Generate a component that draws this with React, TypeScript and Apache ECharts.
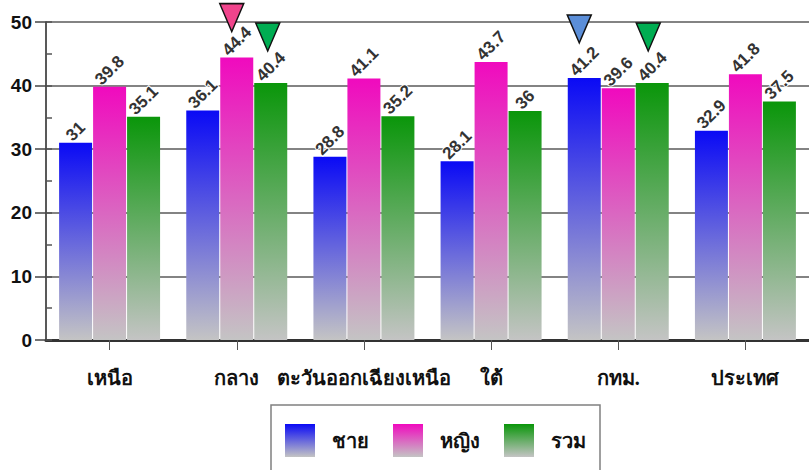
import React, { useEffect, useRef } from "react";
import * as echarts from "echarts";

const categories = ["เหนือ", "กลาง", "ตะวันออกเฉียงเหนือ", "ใต้", "กทม.", "ประเทศ"];
const male = [31, 36.1, 28.8, 28.1, 41.2, 32.9];
const female = [39.8, 44.4, 41.1, 43.7, 39.6, 41.8];
const total = [35.1, 40.4, 35.2, 36, 40.4, 37.5];
const seriesNames = ["ชาย", "หญิง", "รวม"];
const yTicks = [0, 10, 20, 30, 40, 50];

const thaiFont = "serif";
const numFont = "Arial, 'Liberation Sans', sans-serif";
const LABEL_SIZE = 17;

function grad(top: string) {
  return new echarts.graphic.LinearGradient(0, 0, 0, 1, [
    { offset: 0, color: top },
    { offset: 1, color: "#c4c4c4" },
  ]);
}

function textWidth(s: string) {
  let w = 0;
  for (const ch of s) w += ch === "." ? 0.278 : 0.556;
  return w * LABEL_SIZE;
}

function labelOffset(v: number) {
  const L = textWidth(String(v));
  const h = LABEL_SIZE;
  const D = (Math.SQRT1_2 * (L + h * 0.8)) / 2;
  const s = D - 5;
  const a = Math.SQRT1_2 * s;
  return [a, -(a - h / 2)];
}

function Chart() {
  const ref = useRef<HTMLDivElement>(null);
  useEffect(() => {
    if (!ref.current) return;
    const chart = echarts.init(ref.current, null, { renderer: "svg" });
    const tri = (color: string) => ({
      symbol: "triangle",
      symbolRotate: 180,
      symbolSize: [24, 28],
      itemStyle: { color, borderColor: "#111", borderWidth: 1.5 },
    });
    const colors = ["#0a0af5", "#f00abe", "#0a960a"];
    const data = [male, female, total];
    const marks: any[] = [
      [{ coord: [4, male[4]], symbolOffset: [-5, -49], ...tri("#5b8ed8") }],
      [{ coord: [1, female[1]], symbolOffset: [-5, -40], ...tri("#f0448c") }],
      [
        { coord: [1, total[1]], symbolOffset: [-3, -46], ...tri("#00ad52") },
        { coord: [4, total[4]], symbolOffset: [-4, -46], ...tri("#00ad52") },
      ],
    ];
    chart.setOption({
      animation: false,
      grid: { left: 46, top: 22, right: -5, bottom: 130 },
      legend: {
        left: 271,
        top: 405,
        padding: [19, 14, 20, 14],
        borderColor: "#808080",
        borderWidth: 1.5,
        itemWidth: 30,
        itemHeight: 33,
        itemGap: 24,
        icon: "rect",
        textStyle: {
          fontFamily: thaiFont,
          fontWeight: "bold",
          fontSize: 20,
          color: "#111",
          padding: [14, 0, 0, 12],
        },
        data: seriesNames,
      },
      xAxis: {
        type: "category",
        data: categories,
        axisLine: { show: true, lineStyle: { color: "#333", width: 3 } },
        axisTick: { show: true, alignWithLabel: true, length: 10, lineStyle: { color: "#555" } },
        axisLabel: {
          margin: 28,
          fontFamily: thaiFont,
          fontWeight: "bold",
          fontSize: 20,
          color: "#111",
          interval: 0,
        },
      },
      yAxis: [
        {
          type: "value",
          min: 0,
          max: 50,
          interval: 10,
          axisLine: { show: true, lineStyle: { color: "#222", width: 1.5 } },
          axisTick: { show: true, length: 11, lineStyle: { color: "#444", width: 1.5 } },
          splitLine: { show: true, lineStyle: { color: "#5a5a5a", width: 1.5 } },
          axisLabel: {
            margin: 14,
            fontFamily: numFont,
            fontWeight: "bold",
            fontSize: 19,
            color: "#111",
            formatter: (v: number) => (yTicks.includes(v) ? String(v) : ""),
          },
        },
        {
          type: "value",
          min: 0,
          max: 50,
          interval: 5,
          position: "left",
          axisLine: { show: false },
          axisTick: { show: true, inside: true, length: 6, lineStyle: { color: "#555", width: 1.5 } },
          splitLine: { show: false },
          axisLabel: { show: false },
        },
      ],
      series: seriesNames.map((name, i) => ({
        name,
        type: "bar",
        data: data[i].map((v) => ({ value: v, label: { offset: labelOffset(v) } })),
        barWidth: 33,
        barGap: "3%",
        itemStyle: { color: grad(colors[i]) },
        label: {
          show: true,
          position: "top",
          rotate: 45,
          fontSize: LABEL_SIZE,
          fontWeight: "bold",
          fontFamily: numFont,
        },
        markPoint: { data: marks[i] },
        z: 3,
      })),
    });
    return () => chart.dispose();
  }, []);
  return <div ref={ref} style={{ width: 809, height: 470, display: "inline-block" }} />;
}

export default function App() {
  return (
    <div style={{ position: "absolute", left: 0, top: 0, width: 809, height: 470 }}>
      <Chart />
    </div>
  );
}
